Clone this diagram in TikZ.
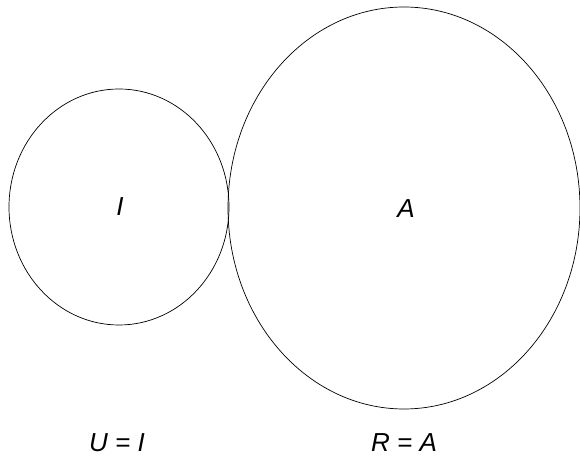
\documentclass[tikz,border=0pt]{standalone}
\usepackage{fontspec}
\setmainfont{Liberation Sans}
\usepackage{tikz}
\usetikzlibrary{positioning}

\tikzset{
  setlabel/.style={font=\fontsize{18.5}{21}\selectfont\itshape, inner sep=0pt},
}

\begin{document}
\begin{tikzpicture}[x=0.025cm, y=-0.025cm]
  \useasboundingbox (0,0) rectangle (580,464);
  % the two sets, touching at one point
  \draw[line width=0.5pt] (119,207) ellipse [x radius=110, y radius=118];
  \draw[line width=0.5pt] (404,208) ellipse [x radius=176, y radius=201];
  \node[setlabel] (inner) at (120,207) {I};
  \node[setlabel] (outer) at (406,209) {A};
  % captions
  \node[setlabel] (capU) at (117,443) {U = I};
  \node[setlabel] (capR) at (404,443) {R = A};
\end{tikzpicture}
\end{document}
